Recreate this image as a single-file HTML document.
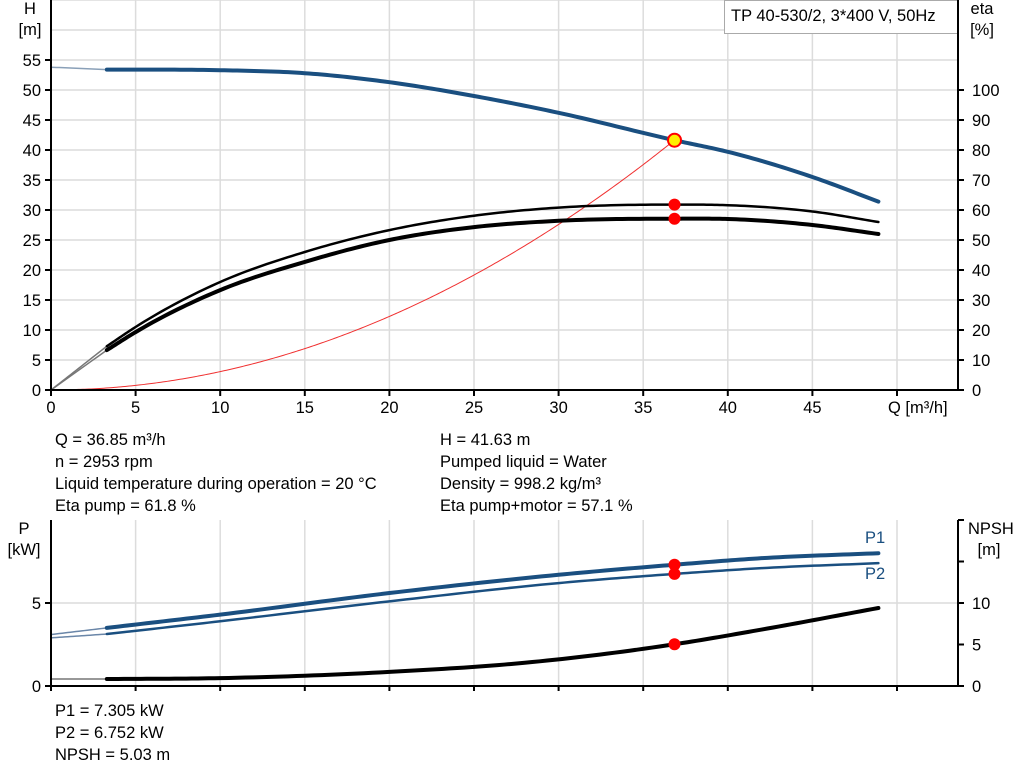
<!DOCTYPE html>
<html><head><meta charset="utf-8"><style>
body{margin:0;background:#fff;}
svg{display:block;font-family:"Liberation Sans",sans-serif;}
</style></head><body>
<svg id="s" width="1024" height="781" xmlns="http://www.w3.org/2000/svg">
<g id="grid" stroke="#dcdcdc" stroke-width="1.5"></g>
<rect x="724.5" y="0.5" width="234" height="33" fill="#fff" stroke="#aaa"/>
<text x="731" y="21" font-size="16.5">TP 40-530/2, 3*400 V, 50Hz</text>
<g id="curves" fill="none"></g>
<g id="axes" stroke="#000" stroke-width="2"></g>
<g id="lbl" font-size="16.5" fill="#000"></g>
<g font-size="16.5">
<text x="30" y="14" text-anchor="middle">H</text><text x="30" y="35" text-anchor="middle">[m]</text>
<text x="982" y="14" text-anchor="middle">eta</text><text x="982" y="35" text-anchor="middle">[%]</text>
<text x="888" y="413">Q [m³/h]</text>
<text x="55" y="445">Q = 36.85 m³/h</text>
<text x="55" y="467">n = 2953 rpm</text>
<text x="55" y="489">Liquid temperature during operation = 20 °C</text>
<text x="55" y="511">Eta pump = 61.8 %</text>
<text x="440" y="445">H = 41.63 m</text>
<text x="440" y="467">Pumped liquid = Water</text>
<text x="440" y="489">Density = 998.2 kg/m³</text>
<text x="440" y="511">Eta pump+motor = 57.1 %</text>
<text x="24" y="534" text-anchor="middle">P</text><text x="24" y="555" text-anchor="middle">[kW]</text>
<text x="968" y="534">NPSH</text><text x="989" y="555" text-anchor="middle">[m]</text>
<text x="865" y="543" fill="#1a4f80">P1</text>
<text x="865" y="579" fill="#1a4f80">P2</text>
<text x="55" y="716">P1 = 7.305 kW</text>
<text x="55" y="738">P2 = 6.752 kW</text>
<text x="55" y="760">NPSH = 5.03 m</text>
</g>
<g id="pts"></g>
</svg>
<script>
const NS="http://www.w3.org/2000/svg";
function el(p,t,a,txt){const e=document.createElementNS(NS,t);for(const k in a)e.setAttribute(k,a[k]);if(txt!==undefined)e.textContent=txt;document.getElementById(p).appendChild(e);return e;}
const X=q=>51+q*16.92;
const YH=h=>390-h*6, YE=e=>390-e*3, YP=p=>686-p*16.6, YN=n=>686-n*8.3;
for(let q=5;q<=50;q+=5){el('grid','line',{x1:X(q),y1:0,x2:X(q),y2:390});el('grid','line',{x1:X(q),y1:520,x2:X(q),y2:686});}
for(let h=5;h<=65;h+=5)el('grid','line',{x1:51,y1:YH(h),x2:958,y2:YH(h)});
el('grid','line',{x1:51,y1:603,x2:958,y2:603});
el('axes','line',{x1:51,y1:0,x2:51,y2:391});el('axes','line',{x1:958,y1:0,x2:958,y2:391});el('axes','line',{x1:50,y1:390,x2:959,y2:390});
el('axes','line',{x1:51,y1:520,x2:51,y2:687});el('axes','line',{x1:958,y1:520,x2:958,y2:687});el('axes','line',{x1:50,y1:686,x2:959,y2:686});
for(let q=0;q<=50;q+=5){el('axes','line',{x1:X(q),y1:390,x2:X(q),y2:396});el('axes','line',{x1:X(q),y1:686,x2:X(q),y2:691});if(q<50)el('lbl','text',{x:X(q),y:413,'text-anchor':'middle'},q);}
for(let h=0;h<=55;h+=5){el('axes','line',{x1:45,y1:YH(h),x2:51,y2:YH(h)});el('lbl','text',{x:41,y:YH(h)+6,'text-anchor':'end'},h);}
for(let e=0;e<=100;e+=10){el('axes','line',{x1:958,y1:YE(e),x2:964,y2:YE(e)});el('lbl','text',{x:972,y:YE(e)+6},e);}
[0,5].forEach(p=>{el('axes','line',{x1:45,y1:YP(p),x2:51,y2:YP(p)});el('lbl','text',{x:41,y:YP(p)+6,'text-anchor':'end'},p);});
[0,5,10,15,20].forEach(n=>{el('axes','line',{x1:958,y1:YN(n),x2:964,y2:YN(n)});if(n<=10)el('lbl','text',{x:972,y:YN(n)+6},n);});
function interp(d){const n=d.length,m=[];
for(let i=0;i<n;i++){if(i==0)m.push((d[1][1]-d[0][1])/(d[1][0]-d[0][0]));else if(i==n-1)m.push((d[n-1][1]-d[n-2][1])/(d[n-1][0]-d[n-2][0]));
else{const s0=(d[i][1]-d[i-1][1])/(d[i][0]-d[i-1][0]),s1=(d[i+1][1]-d[i][1])/(d[i+1][0]-d[i][0]);const h0=d[i][0]-d[i-1][0],h1=d[i+1][0]-d[i][0];m.push((s0*h1+s1*h0)/(h0+h1));}}
const out=[];for(let i=0;i<n-1;i++){const h=d[i+1][0]-d[i][0];for(let k=0;k<20;k++){const t=k/20,t2=t*t,t3=t2*t;
out.push([d[i][0]+t*h,(2*t3-3*t2+1)*d[i][1]+(t3-2*t2+t)*h*m[i]+(-2*t3+3*t2)*d[i+1][1]+(t3-t2)*h*m[i+1]]);}}
out.push(d[n-1]);return out;}
function curve(data,fy,col,w){const p=interp(data).map(a=>X(a[0]).toFixed(2)+','+fy(a[1]).toFixed(2)).join(' ');el('curves','polyline',{points:p,stroke:col,'stroke-width':w,'stroke-linecap':'round','stroke-linejoin':'round'});}
const blue='#1a4f80';
curve([[0,53.8],[3.3,53.4]],YH,'#8aa0b8',1.5);
curve([[3.3,53.4],[10,53.3],[15,52.8],[20,51.3],[25,49],[30,46.2],[36.85,41.63],[40,39.7],[45,35.5],[48.9,31.4]],YH,blue,4);
let sys=[];for(let q=0;q<=36.85;q+=2.5)sys.push([q,0.03066*q*q]);sys.push([36.85,41.63]);curve(sys,YH,'#f03030',1);
curve([[0,0],[3.3,14.6]],YE,'#777',1.5);curve([[0,0],[3.3,13.3]],YE,'#777',1.5);
curve([[3.3,14.6],[5,21],[10,36],[15,46],[20,53.3],[25,58.1],[30,60.8],[36.85,61.8],[40,61.6],[45,59.5],[48.9,56]],YE,'#000',2.5);
curve([[3.3,13.3],[5,19.3],[10,33.3],[15,42.7],[20,50],[25,54.3],[30,56.4],[36.85,57.1],[40,57],[45,55],[48.9,52]],YE,'#000',4);
curve([[0,3.1],[3.3,3.5]],YP,'#6a86a8',1.5);curve([[0,2.9],[3.3,3.13]],YP,'#6a86a8',1.5);
curve([[3.3,3.5],[10,4.3],[20,5.6],[30,6.7],[36.85,7.305],[42,7.7],[48.9,8.0]],YP,blue,4);
curve([[3.3,3.13],[10,3.9],[20,5.1],[30,6.2],[36.85,6.752],[42,7.1],[48.9,7.4]],YP,blue,2.5);
curve([[0,0.84],[3.3,0.84]],YN,'#777',1.5);
curve([[3.3,0.84],[10,0.95],[20,1.7],[28,2.8],[36.85,5.03],[42,6.8],[48.9,9.4]],YN,'#000',4);
[YE(61.8),YE(57.1),YP(7.305),YP(6.752),YN(5.03)].forEach(y=>el('pts','circle',{cx:X(36.85),cy:y,r:6,fill:'#f00'}));
el('pts','circle',{cx:X(36.85),cy:YH(41.63),r:6.5,fill:'#ffee00',stroke:'#f00','stroke-width':2});
</script>
</body></html>
